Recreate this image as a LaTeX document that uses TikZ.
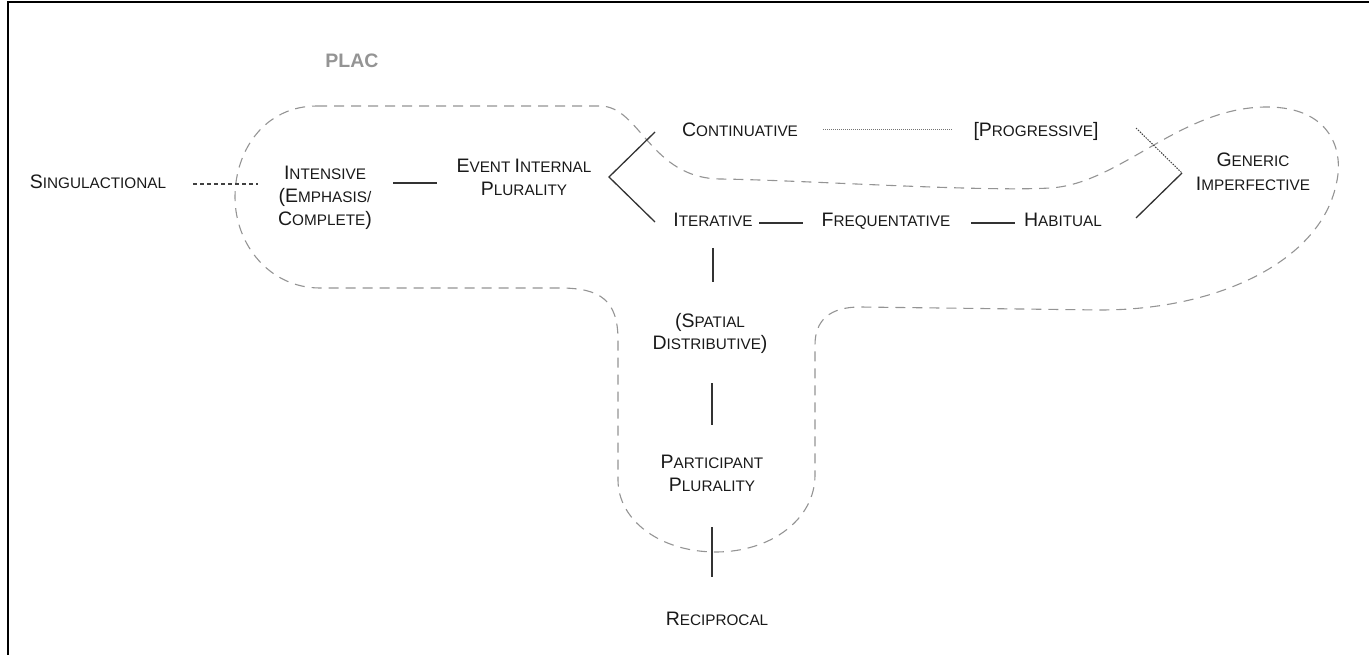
\documentclass[tikz,border=0pt]{standalone}
\usepackage{fontspec}
\setmainfont{Liberation Sans}
\usetikzlibrary{calc}
% faked small caps: the initial capital is set larger
\newcommand\Ini[1]{{\fontsize{19.5}{23}\selectfont #1}}
\tikzset{
  lbl/.style={inner sep=0pt, anchor=base, text=black!90, align=center,
              font=\fontsize{15.3}{23}\selectfont},
  link/.style={draw=black!80, line width=1.3pt},
  dotlink/.style={draw=black!75, line width=1.2pt, dash pattern=on 4pt off 3pt},
  finedot/.style={draw=black!55, line width=1pt, dash pattern=on 1pt off 1pt},
  region/.style={draw=black!42, line width=1.1pt, dash pattern=on 10pt off 7pt},
}
\begin{document}
\begin{tikzpicture}[x=1pt,y=-1pt]
\useasboundingbox (0,0) rectangle (1369,655);
% frame
\draw[line width=2pt] (8,655) -- (8,2) -- (1369,2);

% the PLAC region
\draw[region] (317,106) -- (600,106)
  .. controls (640,106) and (650,178) .. (720,179)
  .. controls (800,180) and (980,192) .. (1050,188)
  .. controls (1120,184) and (1180,107) .. (1267,107)
  .. controls (1330,107) and (1345,150) .. (1336,185)
  .. controls (1320,260) and (1220,310) .. (1100,310)
  -- (860,307)
  .. controls (830,307) and (815,320) .. (815,345)
  -- (815,475)
  .. controls (815,520) and (770,552) .. (716,552)
  .. controls (660,552) and (618,520) .. (618,480)
  -- (618,340)
  .. controls (618,300) and (600,288) .. (560,288)
  -- (320,288)
  .. controls (270,288) and (235,245) .. (235,197)
  .. controls (235,150) and (265,106) .. (317,106) -- cycle;

\node[inner sep=0pt, anchor=base, text=black!42, font=\fontsize{19.5}{23}\selectfont\bfseries]
  (plac) at (352,68) {PLAC};

% labels (for multi-line labels the base is the last line)
\node[lbl] (sing)  at (98,189)   {\Ini{S}INGULACTIONAL};
\node[lbl] (int)   at (325,226)  {\Ini{I}NTENSIVE\\\Ini{(E}MPHASIS/\\\Ini{C}OMPLETE\Ini{)}};
\node[lbl] (eip)   at (524,196)  {\Ini{E}VENT \Ini{I}NTERNAL\\\Ini{P}LURALITY};
\node[lbl] (cont)  at (740,137)  {\Ini{C}ONTINUATIVE};
\node[lbl] (prog)  at (1036,137) {\Ini{[P}ROGRESSIVE\Ini{]}};
\node[lbl] (iter)  at (713,227)  {\Ini{I}TERATIVE};
\node[lbl] (freq)  at (886,227)  {\Ini{F}REQUENTATIVE};
\node[lbl] (hab)   at (1063,227) {\Ini{H}ABITUAL};
\node[lbl] (gen)   at (1253,191) {\Ini{G}ENERIC\\[1pt]\Ini{I}MPERFECTIVE};
\node[lbl] (spat)  at (710,349)  {\Ini{(S}PATIAL\\[-1pt]\Ini{D}ISTRIBUTIVE\Ini{)}};
\node[lbl] (part)  at (712,491)  {\Ini{P}ARTICIPANT\\\Ini{P}LURALITY};
\node[lbl] (recip) at (717,625)  {\Ini{R}ECIPROCAL};

% horizontal connectors
\draw[dotlink, shorten <=95pt, shorten >=67pt]
  ([yshift=5pt]sing.base) -- ([yshift=5pt]sing.base -| int.base);
\draw[link, shorten <=68pt, shorten >=87pt]
  ([yshift=43pt]int.base) -- ([yshift=43pt]int.base -| eip.base);
\draw[finedot, shorten <=83pt, shorten >=84pt]
  ([yshift=7pt]cont.base) -- ([yshift=7pt]cont.base -| prog.base);
\draw[link, shorten <=46pt, shorten >=83pt]
  ([yshift=4pt]iter.base) -- ([yshift=4pt]iter.base -| freq.base);
\draw[link, shorten <=85pt, shorten >=48pt]
  ([yshift=4pt]freq.base) -- ([yshift=4pt]freq.base -| hab.base);

% vertical connectors
\draw[link, shorten <=21pt, shorten >=67pt] (iter.base) -- (iter.base |- spat.base);
\draw[link, shorten <=34pt, shorten >=66pt] (spat.base -| part.base) -- (part.base);
\draw[link, shorten <=36pt, shorten >=48pt] (part.base) -- (part.base |- recip.base);

% forks
\coordinate (forkL)  at (609,177);
\coordinate (forkLa) at (655,132);
\coordinate (forkLb) at (655,222);
\draw[link] (forkLa) -- (forkL) -- (forkLb);

\coordinate (forkR)  at (1182,173);
\coordinate (forkRa) at (1136,128);
\coordinate (forkRb) at (1136,218);
\draw[dotlink, line width=1pt, dash pattern=on 1.5pt off 1.2pt] (forkRa) -- (forkR);
\draw[link] (forkR) -- (forkRb);
\end{tikzpicture}
\end{document}
